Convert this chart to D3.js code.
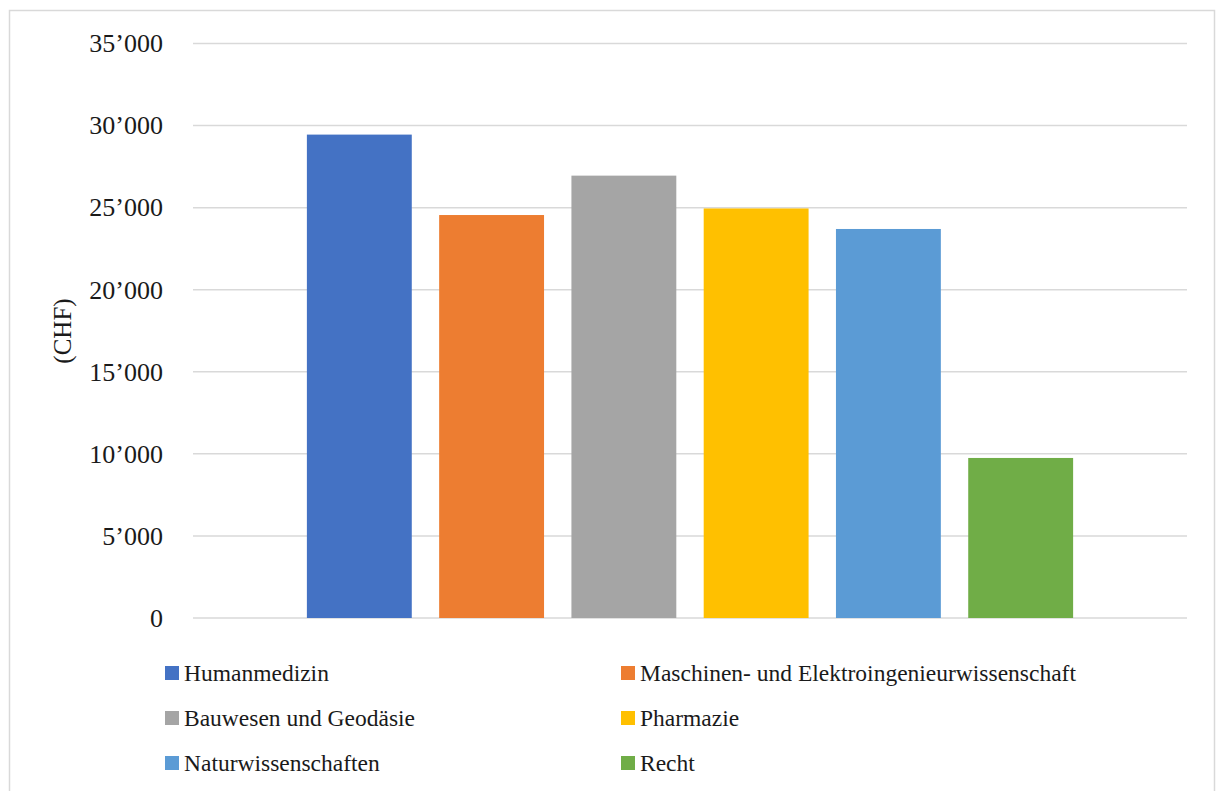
<!DOCTYPE html>
<html>
<head>
<meta charset="utf-8">
<script src="https://cdn.jsdelivr.net/npm/d3@7"></script>
<style>
  html, body { margin: 0; padding: 0; background: #fff; }
  svg { display: block; }
  text { font-family: "Liberation Serif", "DejaVu Serif", serif; fill: #1a1a1a; }
</style>
</head>
<body>
<svg id="chart" width="1216" height="791"></svg>
<script>
// Fields of study and their values (CHF)
const categories = [
  "Humanmedizin",
  "Maschinen- und Elektroingenieurwissenschaft",
  "Bauwesen und Geodäsie",
  "Pharmazie",
  "Naturwissenschaften",
  "Recht"
];
const values = [29450, 24550, 26950, 24950, 23700, 9750];
const colors = ["#4472c4", "#ed7d31", "#a5a5a5", "#ffc000", "#5b9bd5", "#70ad47"];
const yTicks = [0, 5000, 10000, 15000, 20000, 25000, 30000, 35000];
const yTitle = "(CHF)";

const svg = d3.select("#chart");

// chart frame
svg.append("rect")
  .attr("x", 9.5).attr("y", 10.5)
  .attr("width", 1205).attr("height", 800)
  .attr("fill", "#fff").attr("stroke", "#d9d9d9").attr("stroke-width", 1.5);

const plot = { left: 193, right: 1187, top: 43.5, bottom: 618 };

const y = d3.scaleLinear().domain([0, 35000]).range([plot.bottom, plot.top]);
const x = d3.scaleBand().domain(categories)
  .range([plot.left, plot.right])
  .paddingInner(0.207).paddingOuter(0.861);

const fmt = v => d3.format(",")(v).replace(/,/g, "\u2019");

// gridlines
svg.append("g").selectAll("line").data(yTicks).join("line")
  .attr("x1", plot.left).attr("x2", plot.right)
  .attr("y1", d => y(d)).attr("y2", d => y(d))
  .attr("stroke", "#d9d9d9").attr("stroke-width", 1.5);

// y axis labels
const yAxis = d3.axisLeft(y).tickValues(yTicks).tickFormat(fmt).tickSize(0).tickPadding(30);
const gy = svg.append("g").attr("transform", `translate(${plot.left},0)`).call(yAxis);
gy.select(".domain").remove();
gy.selectAll("text")
  .style("font-family", '"Liberation Serif", serif')
  .attr("font-size", 26).attr("fill", "#1a1a1a");

// bars
svg.append("g").selectAll("rect").data(categories).join("rect")
  .attr("x", d => x(d))
  .attr("width", x.bandwidth())
  .attr("y", (d, i) => y(values[i]))
  .attr("height", (d, i) => y(0) - y(values[i]))
  .attr("fill", (d, i) => colors[i]);

// y axis title
svg.append("text")
  .attr("transform", "translate(62,331) rotate(-90)")
  .attr("text-anchor", "middle")
  .attr("dominant-baseline", "central")
  .attr("font-size", 25)
  .text(yTitle);

// legend: two columns, three rows
const legendCols = [165, 621];
const legendRows = [673, 718, 763];
const lg = svg.append("g").selectAll("g").data(categories).join("g")
  .attr("transform", (d, i) => `translate(${legendCols[i % 2]},${legendRows[Math.floor(i / 2)]})`);
lg.append("rect")
  .attr("x", 0).attr("y", -7).attr("width", 14).attr("height", 14)
  .attr("fill", (d, i) => colors[i]);
lg.append("text")
  .attr("x", 19).attr("y", 0)
  .attr("dominant-baseline", "central")
  .attr("font-size", 23.5)
  .text(d => d);
</script>
</body>
</html>
